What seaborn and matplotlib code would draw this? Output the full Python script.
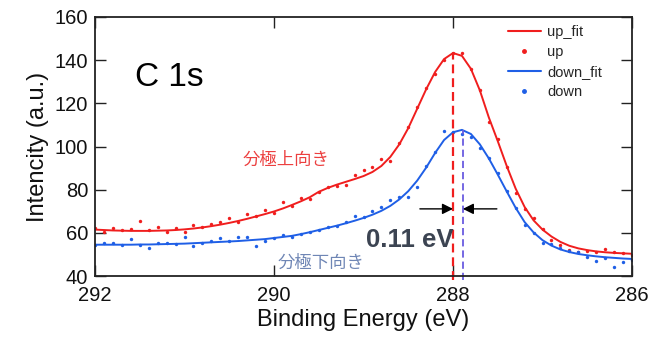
import numpy as np
import pandas as pd
import matplotlib
matplotlib.use("Agg")
import matplotlib.pyplot as plt
from matplotlib.lines import Line2D
import seaborn as sns

# Binding energy grid (eV), 292.0 -> 286.0 in 0.1 steps
energy = [round(292.0 - 0.1 * i, 1) for i in range(61)]

up_fit = [61.5, 61.3, 61.1, 61.0, 60.9, 60.9, 60.9, 61.0, 61.1, 61.3,
          61.6, 62.0, 62.5, 63.1, 63.8, 64.6, 65.5, 66.5, 67.6, 68.7,
          69.9, 71.3, 72.9, 74.6, 76.5, 79.0, 80.8, 82.3, 83.6, 84.9,
          86.3, 88.2, 91.0, 95.2, 101.0, 108.5, 117.5, 126.5, 134.5, 140.5,
          143.3, 142.0, 136.0, 126.0, 113.5, 102.5, 91.0, 80.5, 72.0, 65.8,
          61.5, 58.3, 55.8, 54.0, 52.8, 52.0, 51.4, 51.0, 50.7, 50.5, 50.3]

up = [62.2, 60.2, 62.2, 61.4, 61.7, 65.7, 61.4, 62.6, 60.6, 62.2,
      60.6, 63.7, 62.5, 64.2, 65.2, 66.8, 64.8, 68.8, 67.9, 70.6,
      69.4, 74.5, 72.5, 76.1, 75.6, 78.7, 81.3, 81.8, 82.2, 86.9,
      89.2, 90.4, 94.1, 93.5, 101.5, 109.0, 118.5, 127.2, 133.5, 140.0,
      143.3, 143.4, 135.8, 126.4, 111.5, 103.4, 90.7, 78.4, 71.0, 66.8,
      62.0, 56.8, 54.2, 52.0, 51.3, 51.5, 50.9, 52.7, 51.0, 50.5, 49.8]

down_fit = [54.5, 54.5, 54.5, 54.5, 54.5, 54.6, 54.6, 54.7, 54.8, 54.9,
            55.0, 55.2, 55.4, 55.6, 55.8, 56.0, 56.2, 56.5, 56.8, 57.1,
            57.6, 58.1, 58.6, 59.4, 60.3, 61.3, 62.3, 63.3, 64.4, 65.6,
            66.9, 68.4, 70.2, 72.5, 75.5, 79.3, 84.2, 90.2, 97.0, 103.0,
            106.6, 107.7, 105.8, 101.0, 94.5, 87.0, 79.2, 71.6, 65.0, 60.2,
            56.6, 54.1, 52.3, 51.1, 50.2, 49.6, 49.1, 48.7, 48.4, 48.1, 47.9]

down = [54.4, 55.2, 55.2, 54.4, 57.1, 54.4, 52.9, 55.2, 55.5, 54.9,
        57.9, 53.7, 55.2, 56.4, 57.8, 56.4, 57.9, 57.9, 54.0, 56.4,
        57.6, 59.0, 57.9, 59.4, 60.6, 61.4, 62.5, 63.0, 64.8, 67.9,
        67.3, 69.9, 71.9, 75.0, 76.8, 76.4, 81.4, 91.0, 97.6, 107.2,
        106.8, 105.8, 104.2, 99.5, 94.6, 87.6, 79.5, 71.4, 63.6, 59.9,
        55.2, 54.9, 52.9, 51.4, 50.9, 48.7, 47.0, 48.3, 44.4, 46.3, 47.5]

peak_up = 288.0
peak_down = 287.89
peak_up_val = 143.3
peak_down_val = 107.7
shift_label = "0.11 eV"

x_ticks = [292, 290, 288, 286]
y_ticks = [40, 60, 80, 100, 120, 140, 160]

RED = "#f01e1e"
BLUE = "#1f5fe6"
PURPLE = "#6a5ce0"

df = pd.DataFrame({"energy": energy, "up_fit": up_fit, "up": up,
                   "down_fit": down_fit, "down": down})

sns.set_theme(style="ticks")
plt.rcParams["font.family"] = ["Liberation Sans", "Noto Sans CJK JP", "DejaVu Sans"]

fig = plt.figure(figsize=(6.51, 3.40), dpi=100)
ax = fig.add_axes([95 / 651, 1 - 276 / 340, (632 - 95) / 651, (276 - 17) / 340])

sns.lineplot(data=df, x="energy", y="up_fit", ax=ax, color=RED, lw=1.4,
             sort=False, estimator=None)
sns.scatterplot(data=df, x="energy", y="up", ax=ax, color=RED, s=6,
                linewidth=0)
sns.lineplot(data=df, x="energy", y="down_fit", ax=ax, color=BLUE, lw=1.4,
             sort=False, estimator=None)
sns.scatterplot(data=df, x="energy", y="down", ax=ax, color=BLUE, s=6,
                linewidth=0)

# peak markers
ax.plot([peak_up, peak_up], [38.2, peak_up_val], color=RED, lw=1.6,
        ls=(0, (4, 2.2)), clip_on=False)
ax.plot([peak_down, peak_down], [38.2, peak_down_val], color=PURPLE, lw=1.3,
        ls=(0, (4, 2.2)), clip_on=False)

# arrows
ap = dict(arrowstyle="-|>", color="black", lw=1.0, mutation_scale=16,
          shrinkA=0, shrinkB=0)
ax.annotate("", xy=(peak_up, 71.1), xytext=(288.37, 71.1), arrowprops=ap)
ax.annotate("", xy=(peak_down, 71.1), xytext=(287.51, 71.1), arrowprops=ap)

ax.text(288.97, 56.8, shift_label, color="#3c4452", fontsize=18.5,
        fontweight="bold", ha="left", va="center")
ax.text(291.55, 132.2, "C 1s", color="black", fontsize=24,
        ha="left", va="center")
ax.text(290.35, 93.8, "分極上向き", color="#ec4040", fontsize=12.5,
        ha="left", va="center", family=["Noto Sans CJK JP", "DejaVu Sans"])
ax.text(289.96, 46.1, "分極下向き", color="#6f86b5", fontsize=12.5,
        ha="left", va="center", family=["Noto Sans CJK JP", "DejaVu Sans"])

ax.set_xlim(292, 286)
ax.set_ylim(40, 160)
ax.set_xticks(x_ticks)
ax.set_yticks(y_ticks)
ax.set_xticklabels([str(t) for t in x_ticks])
ax.set_yticklabels([str(t) for t in y_ticks])
ax.tick_params(direction="in", length=8, width=1.0, color="#222222",
               labelsize=14.5, top=True, right=True, labelcolor="#111111")
ax.tick_params(axis="y", pad=5)
ax.tick_params(axis="x", pad=7)
for s in ax.spines.values():
    s.set_color("#222222")
    s.set_linewidth(1.3)

ax.set_xlabel("Binding Energy (eV)", fontsize=17, color="#111111", labelpad=3)
ax.set_ylabel("Intencity (a.u.)", fontsize=17, color="#111111", labelpad=4)

handles = [Line2D([], [], color=RED, lw=1.5),
           Line2D([], [], color=RED, marker="o", ls="", ms=2.5),
           Line2D([], [], color=BLUE, lw=1.5),
           Line2D([], [], color=BLUE, marker="o", ls="", ms=2.5)]
ax.legend(handles, ["up_fit", "up", "down_fit", "down"], loc="upper left",
          bbox_to_anchor=(508 / 651, 1 - 25 / 340),
          bbox_transform=fig.transFigure, frameon=False, fontsize=10.5,
          handlelength=2.25, handletextpad=0.45, labelspacing=0.42,
          borderaxespad=0, borderpad=0)

fig.savefig("out.png", dpi=100)
